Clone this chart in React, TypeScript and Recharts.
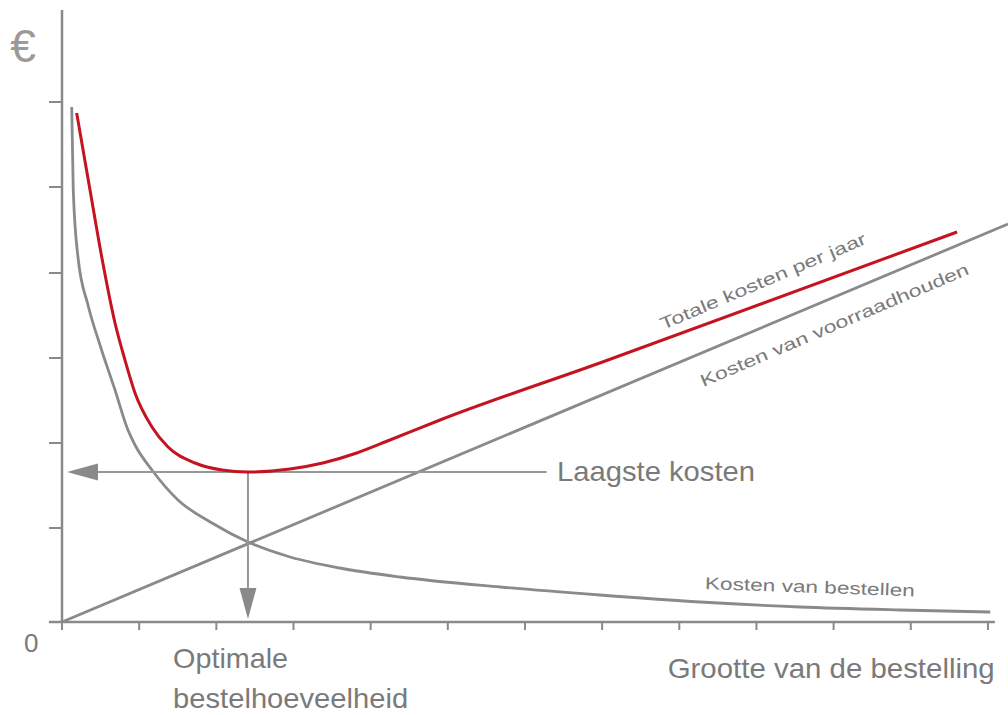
import React from 'react'
import {
  ComposedChart,
  Line,
  XAxis,
  YAxis,
  ReferenceLine,
  ReferenceDot,
} from 'recharts'

// order size (x) in tick units, costs in chart units
const orderX = [0.126, 0.146, 0.207, 0.337, 0.492, 0.687, 0.855, 0.946, 1.166, 1.503, 1.944, 2.41, 2.955, 3.6, 4.38, 5.68, 6.97, 8.27, 9.56, 10.86, 12.03]
const orderCost = [515, 432, 365, 317, 277, 232, 192, 177, 152, 122, 99, 80, 65, 54, 45, 35, 27, 20, 15, 12, 10]

const totalX = [0.19, 0.363, 0.515, 0.687, 0.816, 0.946, 1.166, 1.374, 1.724, 2.074, 2.41, 2.955, 3.38, 3.82, 4.25, 4.9, 6.97, 11.6]
const totalCost = [509, 432, 365, 299, 262, 229, 195, 175, 159, 152, 150, 153, 159, 169, 182, 202, 259, 390]

const holdX = [0, 12.26]
const holdCost = [0, 398]

const xTicks = [0, 1, 2, 3, 4, 5, 6, 7, 8, 9, 10, 11, 12]
const yTicks = [94, 179, 264, 349, 435, 520]

// optimum
const optX = 2.41
const minCost = 150

const toPoints = (xs: number[], ys: number[]) => xs.map((x, i) => ({ x, y: ys[i] }))
const orderData = toPoints(orderX, orderCost)
const totalData = toPoints(totalX, totalCost)
const holdData = toPoints(holdX, holdCost)

const GRAY = '#8a8a8a'
const TEXT = '#7a7a7a'
const RED = '#c41420'
const FONT = '"Liberation Sans", Arial, sans-serif'

type TextOpts = {
  size: number
  anchor?: 'start' | 'middle' | 'end'
  rotate?: number
  len?: number
  fill?: string
}

const textShape = (label: string, o: TextOpts) => (p: any) => (
  <text
    x={p.cx}
    y={p.cy}
    fontSize={o.size}
    fontFamily={FONT}
    fill={o.fill ?? TEXT}
    textAnchor={o.anchor ?? 'start'}
    transform={o.rotate ? `rotate(${o.rotate} ${p.cx} ${p.cy})` : undefined}
    textLength={o.len}
    lengthAdjust={o.len ? 'spacingAndGlyphs' : undefined}
  >
    {label}
  </text>
)

// line with a filled arrow head at (x2, y2)
const arrowShape = (p: any) => {
  const { x1, y1, x2, y2 } = p
  const dx = x2 - x1
  const dy = y2 - y1
  const len = Math.sqrt(dx * dx + dy * dy) || 1
  const ux = dx / len
  const uy = dy / len
  const head = 31
  const half = 8.5
  const bx = x2 - ux * head
  const by = y2 - uy * head
  return (
    <g>
      <line x1={x1} y1={y1} x2={bx} y2={by} stroke="#979797" strokeWidth={2} />
      <polygon
        points={`${x2},${y2} ${bx - uy * half},${by + ux * half} ${bx + uy * half},${by - ux * half}`}
        fill="#8a8a8a"
      />
    </g>
  )
}

const labels: { text: string; x: number; y: number; o: TextOpts }[] = [
  { text: '€', x: -0.505, y: 560, o: { size: 46, anchor: 'middle', fill: '#9a9a9a' } },
  { text: '0', x: -0.4, y: -30, o: { size: 26, anchor: 'middle' } },
  { text: 'Optimale', x: 1.44, y: -46, o: { size: 28, len: 115 } },
  { text: 'bestelhoeveelheid', x: 1.44, y: -86, o: { size: 28, len: 235 } },
  { text: 'Grootte van de bestelling', x: 7.85, y: -56, o: { size: 28, len: 327 } },
  { text: 'Laagste kosten', x: 6.415, y: 141, o: { size: 28, len: 198 } },
  { text: 'Kosten van bestellen', x: 8.33, y: 33, o: { size: 17, rotate: 2, len: 210 } },
  { text: 'Totale kosten per jaar', x: 7.79, y: 292, o: { size: 17, rotate: -23, len: 222 } },
  { text: 'Kosten van voorraadhouden', x: 8.31, y: 235, o: { size: 17, rotate: -23, len: 290 } },
]

export default function App() {
  return (
    <div style={{ position: 'absolute', left: 0, top: 0, width: 1008, height: 715, background: '#fff' }}>
      <ComposedChart
        width={1008}
        height={715}
        margin={{ top: 10, right: 0, bottom: 92, left: 61 }}
      >
        <XAxis
          dataKey="x"
          type="number"
          domain={[0, 12.26]}
          ticks={xTicks}
          axisLine={false}
          tickLine={{ stroke: GRAY, strokeWidth: 2 }}
          tickSize={8}
          tickFormatter={() => ''}
          height={1}
        />
        <YAxis
          type="number"
          domain={[0, 612]}
          ticks={yTicks}
          axisLine={{ stroke: GRAY, strokeWidth: 2.5 }}
          tickLine={{ stroke: GRAY, strokeWidth: 2 }}
          tickSize={13}
          tickFormatter={() => ''}
          width={1}
        />

        {/* x axis line, runs a bit past the y axis */}
        <ReferenceLine
          segment={[{ x: -0.17, y: 0 }, { x: 12.09, y: 0 }]}
          stroke={GRAY}
          strokeWidth={2.5}
          ifOverflow="visible"
        />

        <Line
          data={holdData}
          dataKey="y"
          type="linear"
          stroke={GRAY}
          strokeWidth={2.8}
          dot={false}
          isAnimationActive={false}
        />
        <Line
          data={orderData}
          dataKey="y"
          type="monotone"
          stroke={GRAY}
          strokeWidth={2.8}
          dot={false}
          isAnimationActive={false}
        />

        {/* arrows from the minimum */}
        <ReferenceLine
          segment={[{ x: 6.28, y: minCost }, { x: 0.065, y: minCost }]}
          shape={arrowShape}
          ifOverflow="visible"
        />
        <ReferenceLine
          segment={[{ x: optX, y: minCost }, { x: optX, y: 3 }]}
          shape={arrowShape}
          ifOverflow="visible"
        />

        <Line
          data={totalData}
          dataKey="y"
          type="monotone"
          stroke={RED}
          strokeWidth={3}
          dot={false}
          isAnimationActive={false}
        />

        {labels.map((l) => (
          <ReferenceDot
            key={l.text}
            x={l.x}
            y={l.y}
            r={0}
            ifOverflow="visible"
            shape={textShape(l.text, l.o)}
          />
        ))}
      </ComposedChart>
    </div>
  )
}
